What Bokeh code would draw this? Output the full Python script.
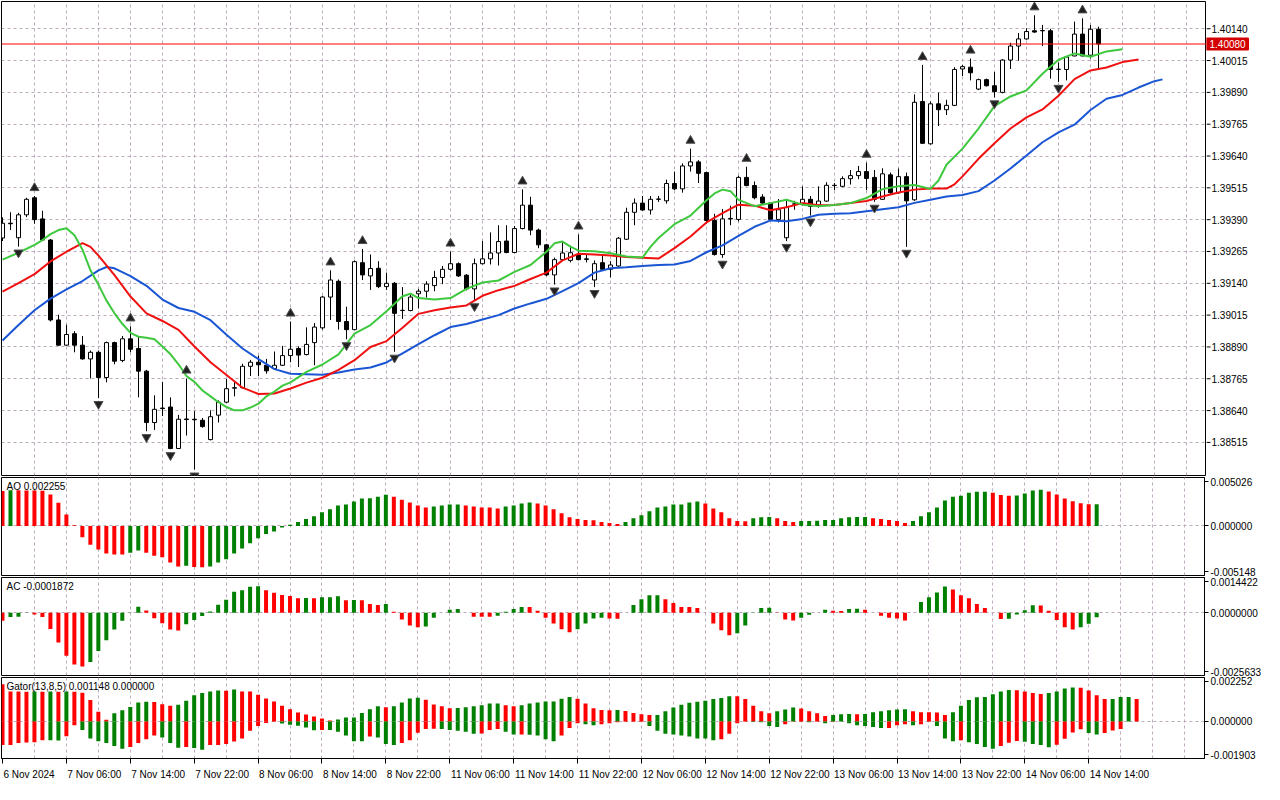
import json
from bokeh.plotting import figure
from bokeh.models import (Range1d, FixedTicker, Grid, Span, Label,
                          CustomJSTickFormatter, ColumnDataSource)
from bokeh.layouts import column, row
from bokeh.core.properties import value
from bokeh.embed import file_html
from bokeh.resources import INLINE

# ---------------- data (H1 bars, 6 Nov 22:00 .. 14 Nov 15:00) ----------------
opens = [1.39318,1.39376,1.39319,1.39409,1.39476,1.39393,1.39310,1.38996,1.38897,1.38942,
1.38897,1.38843,1.38869,1.38770,1.38907,1.38837,1.38922,1.38884,1.38795,1.38593,
1.38650,1.38654,1.38491,1.38607,1.38606,1.38602,1.38526,1.38622,1.38673,1.38728,
1.38730,1.38814,1.38830,1.38818,1.38805,1.38818,1.38856,1.38884,1.38860,1.38907,
1.38965,1.39086,1.39148,1.38990,1.38958,1.39221,1.39169,1.39199,1.39127,1.39140,
1.39033,1.39033,1.39099,1.39109,1.39131,1.39163,1.39195,1.39217,1.39172,1.39118,
1.39217,1.39236,1.39259,1.39306,1.39261,1.39355,1.39447,1.39349,1.39291,1.39173,
1.39233,1.39230,1.39253,1.39236,1.39153,1.39221,1.39195,1.39208,1.39313,1.39419,
1.39455,1.39428,1.39470,1.39464,1.39532,1.39511,1.39601,1.39617,1.39575,1.39387,
1.39253,1.39393,1.39391,1.39556,1.39524,1.39479,1.39455,1.39391,1.39319,1.39451,
1.39451,1.39470,1.39447,1.39463,1.39524,1.39521,1.39551,1.39563,1.39579,1.39556,
1.39470,1.39566,1.39496,1.39559,1.39468,1.39854,1.39688,1.39845,1.39822,1.39839,
1.39982,1.39989,1.39903,1.39940,1.39916,1.39890,1.40017,1.40072,1.40100,1.40132,
1.40133,1.40132,1.39980,1.39980,1.40033,1.40119,1.40036,1.40138]
highs = [1.39399,1.39419,1.39417,1.39476,1.39483,1.39425,1.39314,1.39016,1.38977,1.38952,
1.38933,1.38876,1.38876,1.38911,1.38911,1.38933,1.38971,1.38933,1.38800,1.38700,
1.38753,1.38692,1.38623,1.38766,1.38638,1.38611,1.38641,1.38680,1.38764,1.38753,
1.38824,1.38839,1.38856,1.38843,1.38872,1.38894,1.38990,1.38892,1.38967,1.38984,
1.39091,1.39191,1.39155,1.39048,1.39230,1.39275,1.39253,1.39227,1.39182,1.39145,
1.39125,1.39099,1.39118,1.39148,1.39189,1.39208,1.39265,1.39222,1.39176,1.39237,
1.39306,1.39340,1.39368,1.39368,1.39365,1.39509,1.39480,1.39355,1.39295,1.39241,
1.39306,1.39287,1.39332,1.39253,1.39230,1.39253,1.39227,1.39322,1.39437,1.39473,
1.39483,1.39483,1.39483,1.39547,1.39579,1.39611,1.39669,1.39624,1.39579,1.39413,
1.39432,1.39445,1.39563,1.39598,1.39540,1.39490,1.39457,1.39471,1.39470,1.39464,
1.39521,1.39483,1.39521,1.39537,1.39534,1.39560,1.39585,1.39601,1.39614,1.39585,
1.39592,1.39575,1.39591,1.39575,1.39882,1.39998,1.39854,1.39889,1.39861,1.39989,
1.39998,1.40023,1.39944,1.39944,1.39970,1.40021,1.40085,1.40123,1.40142,1.40193,
1.40155,1.40140,1.40008,1.40033,1.40168,1.40181,1.40155,1.40148]
lows = [1.39306,1.39349,1.39284,1.39400,1.39374,1.39306,1.38990,1.38895,1.38895,1.38869,
1.38840,1.38766,1.38689,1.38751,1.38822,1.38830,1.38869,1.38692,1.38559,1.38564,
1.38619,1.38488,1.38495,1.38542,1.38408,1.38573,1.38523,1.38593,1.38669,1.38696,
1.38727,1.38776,1.38776,1.38785,1.38800,1.38815,1.38830,1.38811,1.38857,1.38818,
1.38958,1.38996,1.38958,1.38920,1.38957,1.39153,1.39114,1.39121,1.39114,1.38871,
1.39000,1.39030,1.39041,1.39084,1.39109,1.39137,1.39191,1.39165,1.39112,1.39073,
1.39214,1.39214,1.39210,1.39258,1.39258,1.39352,1.39329,1.39278,1.39168,1.39135,
1.39230,1.39222,1.39230,1.39222,1.39125,1.39191,1.39163,1.39205,1.39310,1.39368,
1.39425,1.39410,1.39460,1.39453,1.39506,1.39496,1.39579,1.39534,1.39374,1.39249,
1.39240,1.39368,1.39383,1.39521,1.39470,1.39452,1.39387,1.39379,1.39306,1.39429,
1.39445,1.39406,1.39437,1.39460,1.39506,1.39518,1.39528,1.39549,1.39506,1.39460,
1.39468,1.39491,1.39491,1.39283,1.39464,1.39688,1.39685,1.39758,1.39801,1.39836,
1.39954,1.39937,1.39899,1.39913,1.39870,1.39886,1.39982,1.40014,1.40097,1.40124,
1.40072,1.39944,1.39931,1.39937,1.40032,1.40032,1.40023,1.39980]
closes = [1.39376,1.39374,1.39409,1.39470,1.39390,1.39310,1.38996,1.38897,1.38939,1.38897,
1.38843,1.38869,1.38770,1.38907,1.38834,1.38922,1.38881,1.38795,1.38593,1.38645,
1.38648,1.38491,1.38606,1.38605,1.38604,1.38577,1.38616,1.38673,1.38726,1.38730,
1.38814,1.38830,1.38820,1.38796,1.38818,1.38856,1.38881,1.38858,1.38900,1.38968,
1.39086,1.39153,1.38990,1.38958,1.39225,1.39173,1.39198,1.39127,1.39140,1.39022,
1.39034,1.39086,1.39109,1.39137,1.39163,1.39195,1.39217,1.39169,1.39118,1.39217,
1.39236,1.39259,1.39304,1.39261,1.39355,1.39447,1.39349,1.39291,1.39173,1.39233,
1.39259,1.39260,1.39233,1.39234,1.39217,1.39195,1.39212,1.39317,1.39419,1.39455,
1.39428,1.39470,1.39471,1.39532,1.39511,1.39601,1.39617,1.39572,1.39387,1.39253,
1.39393,1.39395,1.39556,1.39524,1.39476,1.39455,1.39391,1.39429,1.39438,1.39452,
1.39470,1.39442,1.39463,1.39525,1.39525,1.39551,1.39563,1.39579,1.39552,1.39470,
1.39570,1.39496,1.39559,1.39464,1.39851,1.39690,1.39845,1.39822,1.39839,1.39980,
1.39991,1.39967,1.39940,1.39916,1.39893,1.40017,1.40072,1.40100,1.40129,1.40127,
1.40132,1.39980,1.39981,1.40029,1.40119,1.40033,1.40138,1.40080]

fractal_up = [4,16,23,36,41,45,56,65,72,86,93,108,115,121,129,135]
fractal_down = [2,12,18,21,24,43,49,59,69,74,90,98,101,109,113,124,132]

# Alligator (already shifted forward: jaw 8, teeth 5, lips 3)
jaw_idx = [0,2,4,6,8,10,12,13,14,16,18,20,22,24,26,28,30,32,34,36,38,40,42,44,46,48,50,52,54,56,
58,60,62,64,66,68,70,72,74,76,78,80,82,84,86,88,90,92,94,96,98,100,102,104,106,108,110,112,114,116,
118,120,122,124,126,128,130,132,134,136,138,140,142,144,145]
jaw_val = [1.38915,1.38976,1.39034,1.39080,1.39116,1.39149,1.39191,1.39204,1.39199,1.39168,
1.39130,1.39076,1.39043,1.39028,1.38995,1.38938,1.38884,1.38842,1.38803,1.38785,
1.38783,1.38781,1.38790,1.38801,1.38809,1.38829,1.38865,1.38901,1.38936,1.38968,
1.38980,1.38998,1.39015,1.39041,1.39061,1.39079,1.39109,1.39141,1.39182,1.39199,
1.39203,1.39208,1.39212,1.39214,1.39228,1.39262,1.39289,1.39326,1.39362,1.39387,
1.39384,1.39393,1.39409,1.39413,1.39415,1.39423,1.39431,1.39439,1.39456,1.39468,
1.39481,1.39487,1.39502,1.39544,1.39591,1.39642,1.39694,1.39733,1.39763,1.39821,
1.39865,1.39880,1.39909,1.39934,1.39941]
teeth_idx = [0,2,4,6,8,10,11,12,14,16,18,20,22,24,26,28,30,32,34,36,38,40,42,44,46,48,50,52,54,56,
58,60,62,64,66,68,70,72,74,76,78,80,82,84,86,88,90,92,94,96,98,100,102,104,106,108,110,112,114,116,
118,119,120,122,124,126,128,130,132,134,136,138,140,142]
teeth_val = [1.39107,1.39141,1.39176,1.39226,1.39264,1.39298,1.39283,1.39249,1.39172,1.39088,
1.39022,1.38992,1.38957,1.38892,1.38830,1.38780,1.38730,1.38705,1.38707,1.38727,
1.38750,1.38769,1.38800,1.38838,1.38890,1.38913,1.38965,1.39020,1.39034,1.39045,
1.39053,1.39091,1.39113,1.39130,1.39157,1.39182,1.39230,1.39256,1.39253,1.39249,
1.39243,1.39240,1.39237,1.39278,1.39324,1.39379,1.39416,1.39449,1.39445,1.39427,
1.39439,1.39455,1.39447,1.39448,1.39455,1.39463,1.39481,1.39497,1.39508,1.39512,
1.39512,1.39529,1.39560,1.39629,1.39690,1.39748,1.39792,1.39823,1.39877,1.39942,
1.39976,1.39988,1.40009,1.40019]
lips_idx = [0,2,4,5,6,7,8,9,10,11,12,13,14,15,16,17,18,19,20,21,22,23,24,25,26,27,28,29,30,31,
32,33,34,35,36,38,40,42,44,46,48,50,51,52,54,56,58,60,62,64,66,68,69,70,71,72,74,76,78,80,
81,82,84,86,88,89,90,91,92,94,96,98,100,102,104,106,108,110,112,114,116,117,118,120,122,124,126,128,130,132,
134,136,138,140]
lips_val = [1.39233,1.39260,1.39291,1.39310,1.39333,1.39349,1.39356,1.39329,1.39272,1.39191,
1.39134,1.39072,1.39022,1.38980,1.38945,1.38930,1.38926,1.38920,1.38892,1.38861,
1.38822,1.38776,1.38753,1.38719,1.38696,1.38673,1.38654,1.38641,1.38641,1.38652,
1.38667,1.38696,1.38715,1.38738,1.38751,1.38792,1.38821,1.38861,1.38942,1.38976,
1.39030,1.39089,1.39099,1.39082,1.39076,1.39082,1.39118,1.39143,1.39151,1.39185,
1.39212,1.39264,1.39297,1.39304,1.39284,1.39268,1.39266,1.39258,1.39245,1.39241,
1.39283,1.39318,1.39372,1.39406,1.39466,1.39493,1.39508,1.39502,1.39468,1.39443,
1.39455,1.39468,1.39449,1.39443,1.39448,1.39455,1.39475,1.39510,1.39521,1.39526,
1.39511,1.39544,1.39606,1.39669,1.39748,1.39836,1.39874,1.39898,1.39963,1.40018,
1.40043,1.40030,1.40051,1.40059]

ao = [0.003636,0.003707,0.003697,0.003687,0.003676,0.003656,0.003262,0.002394,0.001182,0.000071,
-0.001182,-0.001949,-0.002454,-0.002858,-0.002959,-0.002969,-0.002798,-0.002555,-0.002798,-0.003101,
-0.003262,-0.003808,-0.004212,-0.004141,-0.004272,-0.004282,-0.004212,-0.003808,-0.003464,-0.002858,
-0.002353,-0.001788,-0.001283,-0.000838,-0.000576,-0.000172,0.000131,0.000404,0.000707,0.001010,
0.001414,0.001717,0.002121,0.002222,0.002525,0.002858,0.002868,0.003030,0.003232,0.003030,
0.002727,0.002424,0.002121,0.001919,0.002020,0.002121,0.002222,0.002232,0.002121,0.002020,
0.001919,0.001909,0.001818,0.002020,0.002121,0.002323,0.002424,0.002323,0.002121,0.001717,
0.001313,0.000909,0.000707,0.000606,0.000596,0.000404,0.000303,0.000202,0.000404,0.000808,
0.001111,0.001515,0.001919,0.002020,0.002222,0.002232,0.002424,0.002525,0.002323,0.001818,
0.001414,0.000808,0.000505,0.000495,0.000808,0.000909,0.000919,0.000808,0.000505,0.000404,
0.000505,0.000515,0.000525,0.000606,0.000616,0.000808,0.000909,0.000919,0.000929,0.000808,
0.000707,0.000606,0.000505,0.000303,0.000505,0.001010,0.001414,0.001919,0.002626,0.003030,
0.003131,0.003434,0.003535,0.003545,0.003434,0.003212,0.003121,0.003161,0.003363,0.003666,
0.003767,0.003565,0.003262,0.002858,0.002555,0.002353,0.002252,0.002255]

ac = [-0.0003295,-0.0001707,-0.0001667,0.0000119,-0.0000675,-0.0001707,-0.0006630,-0.0012188,-0.0017587,-0.0021160,
-0.0021954,-0.0020128,-0.0015602,-0.0011235,-0.0006868,-0.0003295,0.0000119,0.0002501,0.0000913,-0.0002263,
-0.0004248,-0.0006868,-0.0007265,-0.0004645,-0.0002898,-0.0001310,0.0000516,0.0003295,0.0005280,0.0008615,
0.0009250,0.0010600,0.0010838,0.0009250,0.0008218,0.0007265,0.0006828,0.0005955,0.0005995,0.0005950,
0.0006352,0.0006392,0.0006749,0.0005161,0.0005201,0.0005160,0.0003573,0.0003176,0.0003573,0.0000397,
-0.0002779,-0.0005161,-0.0005955,-0.0005558,-0.0001985,0.0000000,0.0001191,0.0001588,0.0000040,-0.0001588,
-0.0001628,-0.0001667,-0.0001191,0.0000397,0.0001588,0.0002382,0.0002342,0.0000794,-0.0001985,-0.0004367,
-0.0006749,-0.0007940,-0.0006749,-0.0004367,-0.0002382,-0.0001985,-0.0002382,-0.0002422,0.0000040,0.0003176,
0.0005558,0.0007146,0.0007186,0.0005558,0.0003970,0.0002382,0.0002342,0.0001985,0.0000040,-0.0004367,
-0.0007146,-0.0009131,-0.0008337,-0.0005161,0.0000119,0.0001985,0.0002025,0.0000119,-0.0002779,-0.0003176,
-0.0001985,-0.0000794,0.0000040,0.0001191,0.0000794,0.0000754,0.0001588,0.0001628,0.0001191,0.0000040,
-0.0001191,-0.0001985,-0.0002382,-0.0003176,0.0000040,0.0004367,0.0006352,0.0008337,0.0010719,0.0009528,
0.0007146,0.0005955,0.0003573,0.0001985,0.0000040,-0.0002501,-0.0002461,-0.0000675,0.0001072,0.0003057,
0.0003017,0.0000794,-0.0002898,-0.0005955,-0.0006868,-0.0005955,-0.0004486,-0.0001872]

gator_up = [0.001902,0.001534,0.001529,0.001525,0.001529,0.001525,0.001529,0.001525,0.001529,0.001525,
0.001467,0.001099,0.000499,0.000082,0.000421,0.000566,0.000741,0.000968,0.001002,0.000997,
0.000886,0.000808,0.000857,0.001065,0.001341,0.001452,0.001534,0.001583,0.001578,0.001631,
0.001534,0.001529,0.001370,0.001176,0.001016,0.000808,0.000629,0.000460,0.000353,0.000257,
0.000145,0.000048,0.000097,0.000194,0.000198,0.000436,0.000629,0.000774,0.000726,0.000774,
0.000968,0.001176,0.001210,0.001113,0.000871,0.000774,0.000678,0.000682,0.000726,0.000774,
0.000823,0.000920,0.000924,0.000823,0.000774,0.000823,0.000920,0.000968,0.001016,0.001021,
0.001162,0.001258,0.001162,0.000920,0.000678,0.000581,0.000576,0.000581,0.000532,0.000436,
0.000373,0.000324,0.000329,0.000518,0.000711,0.000857,0.000953,0.001002,0.001065,0.001147,
0.001195,0.001292,0.001287,0.001147,0.000808,0.000518,0.000421,0.000518,0.000615,0.000711,
0.000663,0.000518,0.000421,0.000276,0.000324,0.000373,0.000378,0.000373,0.000378,0.000469,
0.000518,0.000566,0.000615,0.000620,0.000518,0.000469,0.000465,0.000460,0.000324,0.000469,
0.000808,0.001099,0.001244,0.001249,0.001389,0.001534,0.001607,0.001602,0.001534,0.001452,
0.001404,0.001452,0.001534,0.001694,0.001742,0.001728,0.001583,0.001341,0.001147,0.001152,
0.001254,0.001258,0.001148]
gator_down = [0.001215,0.001210,0.001113,0.001079,0.001074,0.000968,0.000973,0.000978,0.000760,0.000194,
0.000436,0.000871,0.001016,0.001113,0.001258,0.001404,0.001307,0.001113,0.000920,0.000726,
0.000823,0.001113,0.001355,0.001307,0.001360,0.001452,0.001210,0.001205,0.001162,0.001031,
0.000871,0.000484,0.000242,0.000082,0.000015,0.000111,0.000169,0.000218,0.000315,0.000460,
0.000436,0.000440,0.000532,0.000726,0.001016,0.001021,0.000774,0.000823,0.001162,0.001210,
0.001113,0.000968,0.000581,0.000387,0.000382,0.000387,0.000436,0.000484,0.000532,0.000629,
0.000624,0.000436,0.000387,0.000532,0.000678,0.000673,0.000680,0.000726,0.000920,0.001016,
0.000726,0.000339,0.000097,0.000145,0.000194,0.000145,0.000097,0.000048,0.000024,0.000015,
0.000014,0.000242,0.000484,0.000629,0.000678,0.000726,0.000774,0.000871,0.000876,0.000968,
0.000920,0.000629,0.000097,0.000024,0.000029,0.000048,0.000242,0.000290,0.000145,0.000024,
0.000015,0.000048,0.000024,0.000097,0.000015,0.000010,0.000097,0.000194,0.000242,0.000290,
0.000339,0.000334,0.000194,0.000145,0.000194,0.000145,0.000024,0.000242,0.000871,0.001016,
0.000968,0.001065,0.001162,0.001307,0.001404,0.001258,0.001089,0.001002,0.001050,0.001162,
0.001210,0.001321,0.001195,0.000886,0.000566,0.000402,0.000595,0.000678,0.000595,0.000469,
0.000387]

time_label_bars = [0,8,16,24,32,40,48,56,64,72,80,88,96,104,112,120,128,136]
time_labels = ["6 Nov 2024","7 Nov 06:00","7 Nov 14:00","7 Nov 22:00","8 Nov 06:00","8 Nov 14:00",
               "8 Nov 22:00","11 Nov 06:00","11 Nov 14:00","11 Nov 22:00","12 Nov 06:00","12 Nov 14:00",
               "12 Nov 22:00","13 Nov 06:00","13 Nov 14:00","13 Nov 22:00","14 Nov 06:00","14 Nov 14:00"]
price_ticks = [1.38515,1.38640,1.38765,1.38890,1.39015,1.39140,1.39265,1.39390,1.39515,1.39640,1.39765,1.39890,1.40015,1.40140]
bid_price = 1.40080
main_range = (1.38385, 1.40247)
ao_range = (-0.005148, 0.005026)
ac_range = (-0.0025633, 0.0014422)
gator_range = (-0.001903, 0.002252)

# ---------------- styling / layout ----------------
FONT = "Liberation Sans"
FS = "10px"
GRID_C = "#bdaabd"
UP_C = "#008000"
DN_C = "#ff0000"
JAW_C, TEETH_C, LIPS_C = "#1a55d4", "#f01010", "#3ec83e"

W = 1264
LB, RB = 1, 58
FW = W - LB - RB
BAR_PX = 8.0
X0 = -0.125
X1 = X0 + FW / BAR_PX
xr = Range1d(X0, X1)
vgrid = list(range(4, int(X1) + 1, 4))

H_MAIN, H_AO, H_AC, H_G, AXIS_H = 474, 98, 98, 83, 22


def make_fig(frame_h, yr, hticks, bottom_axis=False, right_axis=True):
    bottom = AXIS_H if bottom_axis else 1
    p = figure(width=(W if right_axis else W - RB), height=frame_h + 1 + bottom, x_range=xr,
               y_range=(Range1d(*yr) if isinstance(yr, tuple) else yr),
               output_backend="svg", toolbar_location=None,
               y_axis_location=("right" if right_axis else None),
               x_axis_location=("below" if bottom_axis else None),
               min_border_left=LB, min_border_right=(RB if right_axis else 0), min_border_top=1,
               min_border_bottom=bottom)
    p.outline_line_color = "black"
    p.outline_line_width = 1
    p.background_fill_color = "white"
    p.border_fill_color = "white"
    p.xgrid.visible = False
    p.ygrid.visible = False
    p.add_layout(Grid(dimension=0, ticker=FixedTicker(ticks=vgrid), grid_line_color=GRID_C,
                      grid_line_dash="3 3", grid_line_width=1))
    p.add_layout(Grid(dimension=1, ticker=FixedTicker(ticks=hticks), grid_line_color=GRID_C,
                      grid_line_dash="3 3", grid_line_width=1))
    if right_axis:
        ax = p.yaxis[0]
        ax.axis_line_color = "black"
        ax.major_tick_line_color = "black"
        ax.major_tick_out = 4
        ax.major_tick_in = 0
        ax.minor_tick_line_color = None
        ax.major_label_text_font = FONT
        ax.major_label_text_font_size = FS
        ax.major_label_text_color = "black"
        ax.major_label_standoff = 2
    return p


def edge_axis(p, yr, frame_h, labels):
    d = 4 * (yr[1] - yr[0]) / frame_h
    ticks = [yr[0] + d, 0.0, yr[1] - d]
    ax = p.yaxis[0]
    ax.ticker = FixedTicker(ticks=ticks)
    ax.formatter = CustomJSTickFormatter(code="const L = %s; return L[index];" % json.dumps(labels))


def colors_for(vals):
    return [DN_C if i == 0 or vals[i] <= vals[i - 1] else UP_C for i in range(len(vals))]


# ---------------- main price panel ----------------
n = len(closes)
idx = list(range(n))
main_yr = Range1d(*main_range)
pm = make_fig(H_MAIN, main_yr, price_ticks, right_axis=False)

csrc = ColumnDataSource(dict(
    x=idx, high=highs, low=lows,
    top=[max(o, c) for o, c in zip(opens, closes)],
    bottom=[min(o, c) for o, c in zip(opens, closes)],
    fill=["white" if c >= o else "black" for o, c in zip(opens, closes)]))
pm.segment(x0="x", y0="low", x1="x", y1="high", source=csrc, line_color="black", line_width=1)
pm.vbar(x="x", width=0.5, top="top", bottom="bottom", source=csrc,
        fill_color="fill", line_color="black", line_width=1)

pm.line(jaw_idx, jaw_val, line_color=JAW_C, line_width=2)
pm.line(teeth_idx, teeth_val, line_color=TEETH_C, line_width=2)
pm.line(lips_idx, lips_val, line_color=LIPS_C, line_width=2)

px_main = (main_range[1] - main_range[0]) / H_MAIN
pm.scatter(fractal_up, [highs[i] + 8 * px_main for i in fractal_up], marker="triangle", size=9,
           fill_color="#202020", line_color="#505050", line_width=1)
pm.scatter(fractal_down, [lows[i] - 6 * px_main for i in fractal_down], marker="inverted_triangle", size=9,
           fill_color="#202020", line_color="#505050", line_width=1)
pm.add_layout(Span(location=bid_price, dimension="width", line_color="#ff0000", line_width=1))

# right price scale drawn as its own narrow panel (so the bid-price box can sit on it)
ps = figure(width=RB, height=H_MAIN + 2, x_range=Range1d(0, RB), y_range=main_yr,
            output_backend="svg", toolbar_location=None, x_axis_location=None, y_axis_location=None,
            min_border_left=0, min_border_right=0, min_border_top=1, min_border_bottom=1)
ps.outline_line_color = None
ps.background_fill_color = "white"
ps.border_fill_color = "white"
ps.xgrid.visible = False
ps.ygrid.visible = False
ps.segment(x0=[0] * len(price_ticks), x1=[4] * len(price_ticks), y0=price_ticks, y1=price_ticks,
           line_color="black", line_width=1)
ps.text(x=[5] * len(price_ticks), y=price_ticks, text=["%.5f" % t for t in price_ticks],
        text_font=value(FONT), text_font_size="10px", text_color="black", text_baseline="middle",
        text_align="left")
ps.quad(left=[0], right=[42], bottom=[bid_price - 6 * px_main], top=[bid_price + 6 * px_main],
        fill_color="#d40000", line_color="#d40000")
ps.text(x=[3], y=[bid_price], text=["%.5f" % bid_price], text_font=value(FONT), text_font_size="10px",
        text_color="white", text_baseline="middle", text_align="left")

# ---------------- AO ----------------
pao = make_fig(H_AO, ao_range, [0.0])
edge_axis(pao, ao_range, H_AO, ["%.6f" % ao_range[0], "0.000000", "%.6f" % ao_range[1]])
pao.vbar(x=idx, width=0.5, top=ao, bottom=0, fill_color=colors_for(ao), line_color=None)
pao.add_layout(Label(x=X0, y=ao_range[1], x_offset=5, y_offset=-3, text="AO %.6f" % ao[-1],
                     text_baseline="top", text_align="left", text_font=FONT, text_font_size=FS,
                     text_color="black"))

# ---------------- AC ----------------
pac = make_fig(H_AC, ac_range, [0.0])
edge_axis(pac, ac_range, H_AC, ["%.7f" % ac_range[0], "0.0000000", "%.7f" % ac_range[1]])
pac.vbar(x=idx, width=0.5, top=ac, bottom=0, fill_color=colors_for(ac), line_color=None)
pac.add_layout(Label(x=X0, y=ac_range[1], x_offset=5, y_offset=-3, text="AC %.7f" % ac[-1],
                     text_baseline="top", text_align="left", text_font=FONT, text_font_size=FS,
                     text_color="black"))

# ---------------- Gator ----------------
pg = make_fig(H_G, gator_range, [0.0], bottom_axis=True)
edge_axis(pg, gator_range, H_G, ["%.6f" % gator_range[0], "0.000000", "%.6f" % gator_range[1]])
gu_x = list(range(len(gator_up)))
gd_x = list(range(len(gator_down)))
pg.vbar(x=gu_x, width=0.5, top=gator_up, bottom=0, fill_color=colors_for(gator_up), line_color=None)
pg.vbar(x=gd_x, width=0.5, top=0, bottom=[-v for v in gator_down],
        fill_color=colors_for(gator_down), line_color=None)
pg.add_layout(Label(x=X0, y=gator_range[1], x_offset=5, y_offset=-3,
                    text="Gator(13,8,5) %.6f %.6f" % (gator_up[-1], 0.0),
                    text_baseline="top", text_align="left", text_font=FONT, text_font_size=FS,
                    text_color="black"))

# time axis: labels start at their bar, so centre each label half its width to the right
CW = {"0": .556, "1": .556, "2": .556, "3": .556, "4": .556, "5": .556, "6": .556, "7": .556,
      "8": .556, "9": .556, " ": .278, ":": .278, "N": .722, "o": .556, "v": .5}
lab_pos = []
for b, t in zip(time_label_bars, time_labels):
    wpx = sum(CW.get(ch, .556) for ch in t) * 10.0
    lab_pos.append(b + (wpx / 2 + 1) / BAR_PX)
xa = pg.xaxis[0]
xa.ticker = FixedTicker(ticks=lab_pos, minor_ticks=time_label_bars)
xa.formatter = CustomJSTickFormatter(code="const L = %s; return L[index];" % json.dumps(time_labels))
xa.axis_line_color = "black"
xa.major_tick_out = 0
xa.major_tick_in = 0
xa.major_tick_line_color = None
xa.minor_tick_out = 5
xa.minor_tick_in = 0
xa.minor_tick_line_color = "black"
xa.major_label_standoff = 5
xa.major_label_text_font = FONT
xa.major_label_text_font_size = FS
xa.major_label_text_color = "black"

layout = column(row(pm, ps, spacing=0), pao, pac, pg, spacing=0)
open("out.html", "w").write(file_html(layout, INLINE))
